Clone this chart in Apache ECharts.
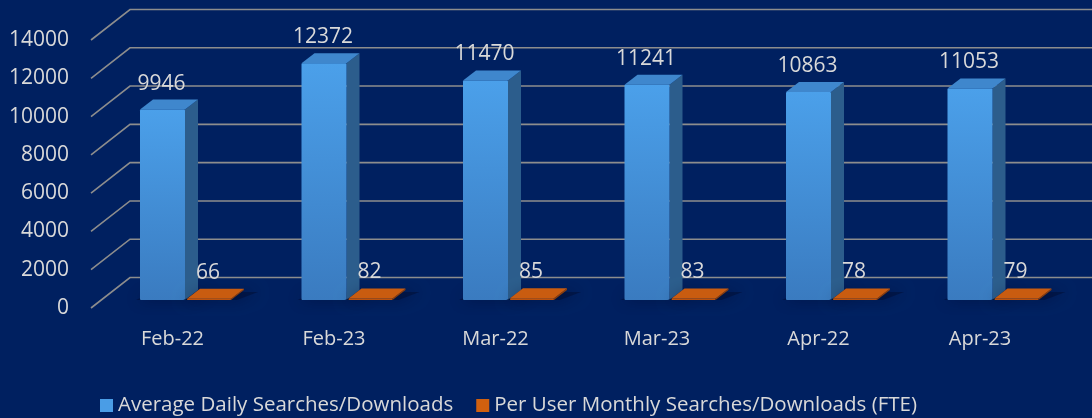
<!DOCTYPE html>
<html>
<head>
<meta charset="utf-8">
<style>
  html, body { margin: 0; padding: 0; background: #002060; }
  #main { width: 1092px; height: 418px; }
</style>
<script src="https://cdn.jsdelivr.net/npm/echarts@6/dist/echarts.min.js"></script>
</head>
<body>
<div id="main"></div>
<script>
// chart data
const categories = ['Feb-22', 'Feb-23', 'Mar-22', 'Mar-23', 'Apr-22', 'Apr-23']
const dailySearches = [9946, 12372, 11470, 11241, 10863, 11053]
const perUserMonthly = [66, 82, 85, 83, 78, 79]
const yTicks = [0, 2000, 4000, 6000, 8000, 10000, 12000, 14000]

const FONT = '"Open Sans", "Noto Sans", sans-serif'
const TEXT = '#d9d9d9'
const DX = 13, DY = -10 // bar depth
const WALL_DX = 39, WALL_DY = -30.5 // front axis -> back wall

const chart = echarts.init(document.getElementById('main'))

// draws a pseudo 3d column
function barRenderer(offL, offR, c) {
  return function (params, api) {
    const base = api.coord([api.value(0), 0])
    const top = api.coord([api.value(0), api.value(1)])
    const x0 = base[0] + offL, x1 = base[0] + offR
    const yb = base[1], yt = top[1]
    return {
      type: 'group',
      children: [
        {
          type: 'polygon',
          shape: { points: [[x0 - 4, yb], [x1 + 6, yb], [x1 + DX + 14, yb + DY + 2], [x0 + DX, yb + DY + 2]] },
          style: { fill: 'rgba(0,10,45,0.45)', shadowBlur: 14, shadowColor: 'rgba(0,8,35,0.9)' },
          z2: 0,
        },
        {
          type: 'polygon',
          shape: { points: [[x1, yb], [x1, yt], [x1 + DX, yt + DY], [x1 + DX, yb + DY]] },
          style: { fill: c.side },
          z2: 1,
        },
        {
          type: 'polygon',
          shape: { points: [[x0, yt], [x1, yt], [x1 + DX, yt + DY], [x0 + DX, yt + DY]] },
          style: { fill: c.top },
          z2: 2,
        },
        {
          type: 'rect',
          shape: { x: x0, y: yt, width: x1 - x0, height: Math.max(yb - yt, 1), r: 1 },
          style: {
            fill: new echarts.graphic.LinearGradient(0, 0, 0, 1, [
              { offset: 0, color: c.front[0] },
              { offset: 1, color: c.front[1] },
            ]),
          },
          z2: 3,
        },
        {
          type: 'text',
          style: {
            text: String(api.value(1)),
            x: (x0 + x1) / 2 - 1,
            y: yt - 26,
            align: 'center',
            verticalAlign: 'middle',
            fill: TEXT,
            font: '21px ' + FONT,
          },
          z2: 4,
        },
      ],
    }
  }
}

const option = {
  backgroundColor: '#002060',
  animation: false,
  grid: [
    { left: 104.75, width: 969, top: 32, bottom: 118 },
    { left: 91, width: 39, top: 40, bottom: 110 },
  ],
  xAxis: [
    {
      type: 'category',
      gridIndex: 0,
      data: categories,
      axisLine: { show: false },
      axisTick: { show: false },
      axisLabel: { color: TEXT, fontSize: 20, fontFamily: FONT, margin: 29, padding: [0, 26, 0, 0] },
    },
    { type: 'value', gridIndex: 1, min: 0, max: 1, show: false },
  ],
  yAxis: [
    { type: 'value', gridIndex: 0, min: 0, max: 14000, show: false },
    {
      type: 'value',
      gridIndex: 1,
      min: 0,
      max: 14000,
      interval: 2000,
      axisLine: { show: false },
      axisTick: { show: false },
      splitLine: { show: false },
      axisLabel: { color: TEXT, fontSize: 21, fontFamily: FONT, margin: 22, formatter: (v) => String(v) },
    },
  ],
  legend: {
    left: 95,
    top: 390,
    itemWidth: 13,
    itemHeight: 13,
    itemGap: 23,
    textStyle: { color: TEXT, fontSize: 20.5, fontFamily: FONT },
    data: [
      { name: 'Average Daily Searches/Downloads', icon: 'rect', itemStyle: { color: '#4a9de6' } },
      { name: 'Per User Monthly Searches/Downloads (FTE)', icon: 'rect', itemStyle: { color: '#d0600f' } },
    ],
  },
  series: [
    {
      // gridlines: front diagonal + back wall line
      type: 'custom',
      xAxisIndex: 1,
      yAxisIndex: 1,
      silent: true,
      z: 1,
      data: yTicks.map((v) => [0, v]),
      renderItem: (params, api) => {
        const p = api.coord([0, api.value(1)])
        return {
          type: 'polyline',
          shape: { points: [[p[0], p[1]], [p[0] + WALL_DX, p[1] + WALL_DY], [api.getWidth(), p[1] + WALL_DY]] },
          style: { stroke: '#8d8d8d', lineWidth: 1.6, fill: null },
        }
      },
    },
    {
      name: 'Average Daily Searches/Downloads',
      type: 'custom',
      z: 2,
      clip: false,
      data: dailySearches.map((v, i) => [i, v]),
      renderItem: barRenderer(-45.5, -0.5, {
        front: ['#4ba0ea', '#3a7bc0'],
        side: '#2c5d8c',
        top: '#3f87cd',
      }),
    },
    {
      name: 'Per User Monthly Searches/Downloads (FTE)',
      type: 'custom',
      z: 3,
      clip: false,
      data: perUserMonthly.map((v, i) => [i, v]),
      renderItem: barRenderer(1.5, 45.5, {
        front: ['#c55a11', '#b84f0c'],
        side: '#8f3f0a',
        top: '#c95c10',
      }),
    },
  ],
}

chart.setOption(option)
</script>
</body>
</html>
